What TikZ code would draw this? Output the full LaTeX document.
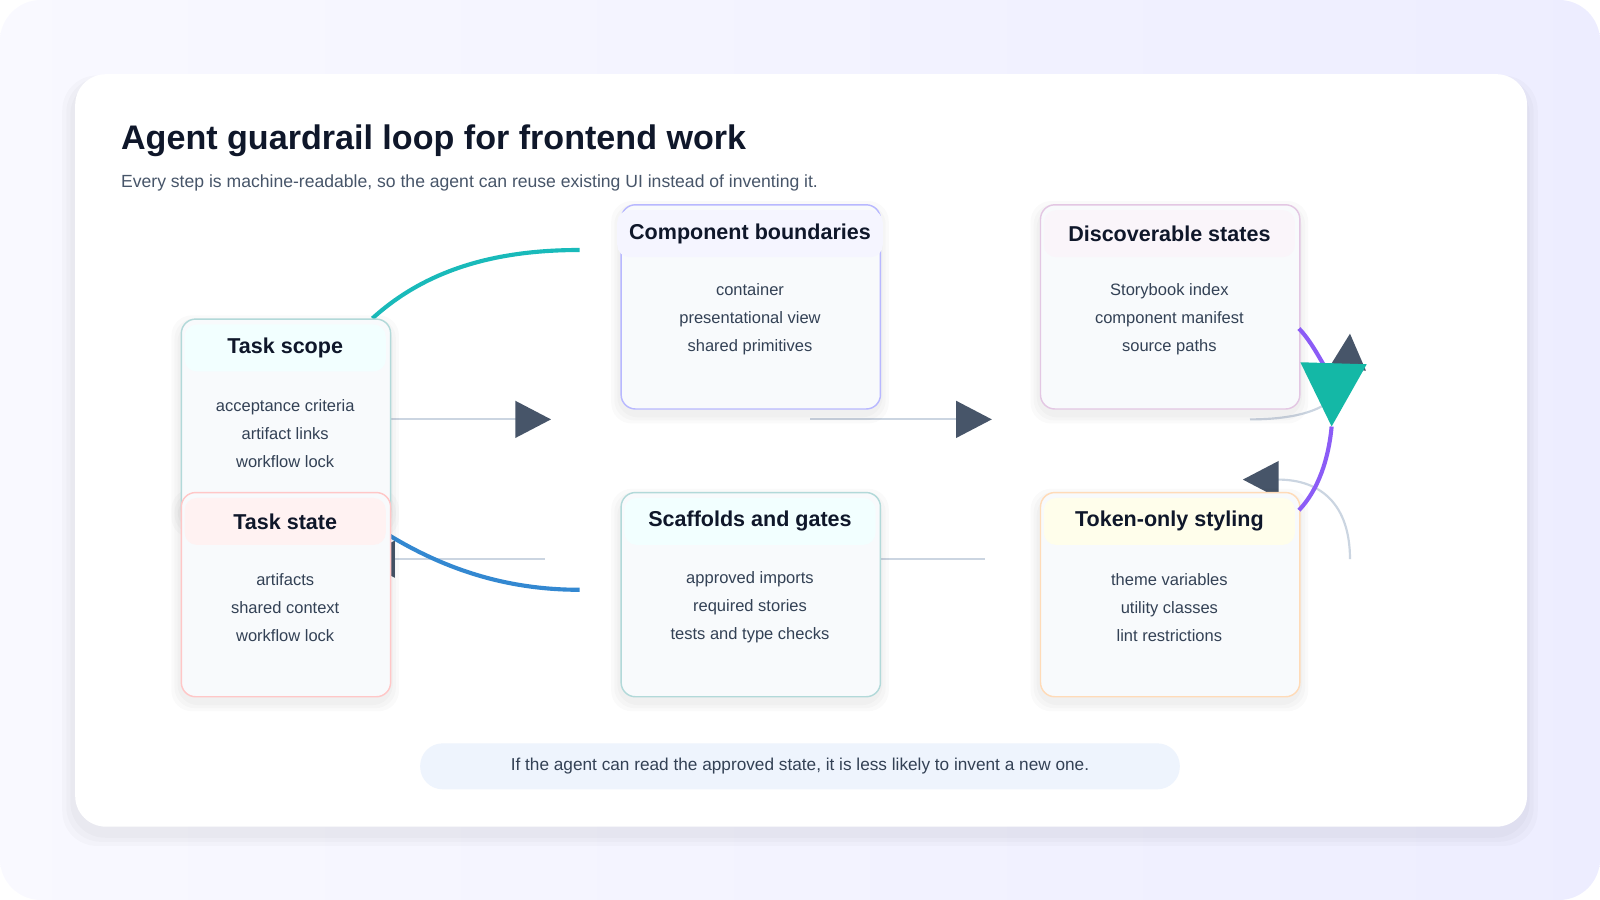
\documentclass[tikz,border=0pt]{standalone}
\usepackage{fontspec}
\setmainfont{Liberation Sans}
\usepackage{tikz}
\usetikzlibrary{arrows.meta, positioning}
\definecolor{colorInk}{HTML}{0F172A}
\definecolor{colorText}{HTML}{334155}
\definecolor{colorSub}{HTML}{475569}
\definecolor{colorWire}{HTML}{CBD5E1}
\definecolor{colorTip}{HTML}{475569}
\definecolor{colorBody}{HTML}{F8FAFC}
\definecolor{colorTeal}{HTML}{14B8A6}
\definecolor{colorPurple}{HTML}{8B5CF6}
\definecolor{colorNote}{HTML}{EEF4FD}
\tikzset{
  card/.style={rectangle, rounded corners=0.14cm, fill=colorBody, line width=0.4pt, minimum height=2cm, anchor=north west},
  head/.style={rectangle, rounded corners=0.12cm, minimum height=0.46cm, font=\fontsize{6}{7}\selectfont\bfseries, text=colorInk},
  body/.style={align=center, font=\fontsize{4.6}{7.8}\selectfont, text=colorText},
  flow/.style={draw=colorWire, line width=0.6pt, -{Triangle[length=0.35cm, width=0.36cm, color=colorTip]}},
}
\begin{document}
\begin{tikzpicture}[x=0.01cm, y=-0.01cm]
\useasboundingbox (0,0) rectangle (1568,882);
\shade[left color=white!40!blue!4, right color=blue!7, rounded corners=0.4cm] (0,0) rectangle (1568,882);
\foreach \g in {4,8,12}
  \fill[black, opacity=0.02, rounded corners=0.34cm] (73-\g,72-\g/2+8) rectangle (1495+\g,809+\g+8);
\node[rectangle, rounded corners=0.3cm, fill=white, minimum width=14.22cm, minimum height=7.37cm, anchor=north west] (panel) at (73,72) {};
\node[anchor=base west, inner sep=0pt, font=\fontsize{9.5}{11}\selectfont\bfseries, text=colorInk] (title) at (118,147) {Agent guardrail loop for frontend work};
\node[anchor=base west, inner sep=0pt, font=\fontsize{4.9}{6}\selectfont, text=colorSub] (subtitle) at (118,184) {Every step is machine-readable, so the agent can reuse existing UI instead of inventing it.};
% connectors under the cards
\coordinate (compIn) at (540,411);
\coordinate (discStart) at (794,411);
\coordinate (discIn) at (972,411);
\coordinate (stateStart) at (534,548);
\coordinate (stateIn) at (352,548);
\coordinate (scafStart) at (965,548);
\coordinate (scafIn) at (830,548);
\coordinate (tokStart) at (1225,411);
\coordinate (tokUp) at (1323,327);
\coordinate (backStart) at (1323,548);
\coordinate (backIn) at (1218,470);
\coordinate (topEnd) at (568,245);
\coordinate (lowEnd) at (568,578);
\coordinate (midTip) at (1305,418);
\draw[flow] (382,411) -- (compIn);
\draw[flow] (discStart) -- (discIn);
\draw[flow] (stateStart) -- (stateIn);
\draw[draw=colorWire, line width=0.6pt] (scafStart) -- (scafIn);
\draw[flow] (tokStart) .. controls (1285,411) and (1318,395) .. (tokUp);
\draw[flow] (backStart) .. controls (1323,495) and (1295,470) .. (backIn);
\draw[line width=1.15pt, draw=teal!60!cyan!90!white] (365,312) .. controls (420,262) and (490,245) .. (topEnd);
\draw[line width=1.15pt, draw=cyan!60!blue!85!white] (382,525) .. controls (440,560) and (500,578) .. (lowEnd);
% soft shadows
\foreach \x/\y/\w in {177/312/2.05, 177/482/2.05, 608/200/2.54, 1019/200/2.54, 608/482/2.54, 1019/482/2.54}
  \foreach \g in {3,6,9}
    \fill[black, opacity=0.018, rounded corners=0.2cm] (\x-\g,\y-\g+6) rectangle ++(\w*100+2*\g,200+2*\g);
% cards
\node[card, draw=teal!30, minimum width=2.05cm] (scope) at (177,312) {};
\node[head, fill=teal!7!cyan!5, minimum width=1.97cm] (scopeH) at (279.5,341) {Task scope};
\node[body] (scopeB) at (279.5,425) {acceptance criteria\\artifact links\\workflow lock};
\node[card, draw=red!22, minimum width=2.05cm] (state) at (177,482) {};
\node[head, fill=red!5, minimum width=1.97cm] (stateH) at (279.5,511) {Task state};
\node[body] (stateB) at (279.5,595) {artifacts\\shared context\\workflow lock};
\node[card, draw=blue!28, minimum width=2.54cm] (comp) at (608,200) {};
\node[head, fill=blue!4, minimum width=2.46cm] (compH) at (735,229) {Component boundaries};
\node[body] (compB) at (735,313) {container\\presentational view\\shared primitives};
\node[card, draw=violet!22, minimum width=2.54cm] (disc) at (1019,200) {};
\node[head, fill=violet!4, minimum width=2.46cm] (discH) at (1146,229) {Discoverable states};
\node[body] (discB) at (1146,313) {Storybook index\\component manifest\\source paths};
\node[card, draw=teal!30, minimum width=2.54cm] (scaf) at (608,482) {};
\node[head, fill=teal!6!cyan!5, minimum width=2.46cm] (scafH) at (735,511) {Scaffolds and gates};
\node[body] (scafB) at (735,595) {approved imports\\required stories\\tests and type checks};
\node[card, draw=orange!28, minimum width=2.54cm] (tok) at (1019,482) {};
\node[head, fill=yellow!8, minimum width=2.46cm] (tokH) at (1146,511) {Token-only styling};
\node[body] (tokB) at (1146,595) {theme variables\\utility classes\\lint restrictions};
% purple loop with the teal head
\draw[line width=1.15pt, draw=colorPurple, -{Triangle[length=0.62cm, width=0.64cm, color=colorTeal]}] (1273,322) .. controls (1295,345) and (1306,385) .. (midTip);
\draw[line width=1.15pt, draw=colorPurple] (midTip) .. controls (1302,450) and (1292,480) .. (1273,500);
% footer
\node[rectangle, rounded corners=0.22cm, fill=colorNote, minimum width=7.44cm, minimum height=0.45cm, font=\fontsize{4.8}{6}\selectfont, text=colorText] (note) at (784,751) {If the agent can read the approved state, it is less likely to invent a new one.};
\end{tikzpicture}
\end{document}
